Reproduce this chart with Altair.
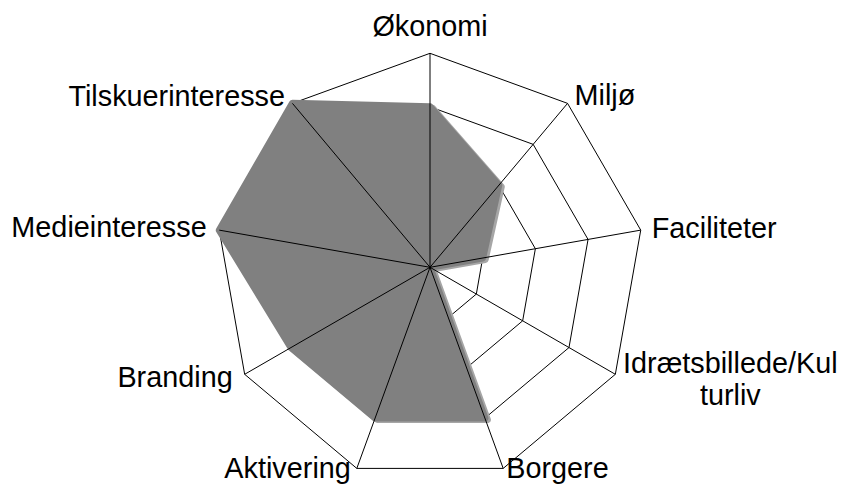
import math
import altair as alt
import pandas as pd

# ---- data ----
categories = ["Økonomi", "Miljø", "Faciliteter", "Idrætsbillede/Kulturliv", "Borgere",
              "Aktivering", "Branding", "Medieinteresse", "Tilskuerinteresse"]
label_text = ["Økonomi", "Miljø", "Faciliteter", "Idrætsbillede/Kul\nturliv", "Borgere",
              "Aktivering", "Branding", "Medieinteresse", "Tilskuerinteresse"]
values = [3, 2, 1, 0, 3, 3, 3, 4, 4]
levels = [1, 2, 3, 4]
max_level = 4

# ---- layout ----
W, H = 829, 476
CX, CY = 422.0, 259.3       # centre of the radar inside the plot area (px)
PX = 53.5                   # pixels per value unit
x_dom = [-CX / PX, (W - CX) / PX]
y_dom = [-(H - CY) / PX, CY / PX]

n = len(categories)
angles = [math.pi / 2 - 2 * math.pi * i / n for i in range(n)]

# label placement (px offsets from the outer vertex: right, down) and alignment
label_layout = {
    0: (0, -17, "center"),
    1: (7, 2, "left"),
    2: (11, 8, "left"),
    3: (115, -1, "center"),
    4: (3, 9.5, "left"),
    5: (-6, 9.5, "right"),
    6: (-12, 13, "right"),
    7: (-12.6, 7, "right"),
    8: (-7.4, 3, "right"),
}

xs = alt.X("x:Q", scale=alt.Scale(domain=x_dom, nice=False, zero=False), axis=None)
ys = alt.Y("y:Q", scale=alt.Scale(domain=y_dom, nice=False, zero=False), axis=None)

# data polygon
fill_rows = []
for i, (c, v) in enumerate(zip(categories, values)):
    fill_rows.append({"cat": c, "i": i, "x": v * math.cos(angles[i]), "y": v * math.sin(angles[i])})
fill_df = pd.DataFrame(fill_rows)
shadow_df = fill_df.copy()
shadow_df["x"] = shadow_df["x"] + 2.5 / PX
shadow_df["y"] = shadow_df["y"] - 1.5 / PX

# grid rings
ring_rows = []
for lv in levels:
    for i in range(n):
        ring_rows.append({"level": lv, "i": i, "x": lv * math.cos(angles[i]), "y": lv * math.sin(angles[i])})
ring_df = pd.DataFrame(ring_rows)

# spokes
spoke_df = pd.DataFrame({
    "cat": categories,
    "x": [0.0] * n,
    "y": [0.0] * n,
    "x2": [max_level * math.cos(a) for a in angles],
    "y2": [max_level * math.sin(a) for a in angles],
})

# labels
lab_rows = []
for i, t in enumerate(label_text):
    dx, dy, al = label_layout[i]
    vx = max_level * math.cos(angles[i])
    vy = max_level * math.sin(angles[i])
    lab_rows.append({"label": t, "x": vx + dx / PX, "y": vy - dy / PX, "align": al, "i": i})
lab_df = pd.DataFrame(lab_rows)

rings = alt.Chart(ring_df).mark_line(
    interpolate="linear-closed", color="black", strokeWidth=1
).encode(x=xs, y=ys, detail="level:N", order="i:Q")

shadow = alt.Chart(shadow_df).mark_line(
    interpolate="linear-closed", fill="#a6a6a6", stroke="#a6a6a6", strokeWidth=7, strokeJoin="round"
).encode(x=xs, y=ys, order="i:Q")

fill = alt.Chart(fill_df).mark_line(
    interpolate="linear-closed", fill="#808080", stroke="#808080", strokeWidth=7, strokeJoin="round"
).encode(x=xs, y=ys, order="i:Q")

spokes = alt.Chart(spoke_df).mark_rule(color="black", strokeWidth=1).encode(
    x=xs, y=ys, x2="x2:Q", y2="y2:Q"
)

text_layers = []
for al in ["left", "right", "center"]:
    sub = lab_df[lab_df["align"] == al]
    text_layers.append(
        alt.Chart(sub).mark_text(
            align=al, baseline="alphabetic", font="Liberation Sans", fontSize=28.8,
            color="black", lineBreak="\n", lineHeight=32
        ).encode(x=xs, y=ys, text="label:N")
    )

chart = alt.layer(rings, shadow, fill, spokes, *text_layers).properties(
    width=W, height=H, padding=0, autosize=alt.AutoSizeParams(type="none")
).configure_view(stroke=None)

chart.save("out.html", embed_options={"renderer": "svg", "actions": False})
